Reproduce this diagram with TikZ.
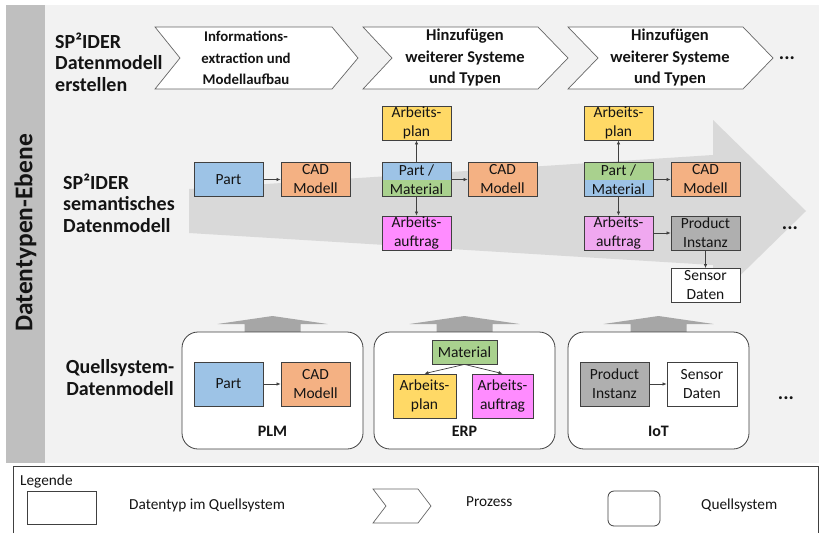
\documentclass[tikz,border=0pt]{standalone}
\usepackage{fontspec}
\setmainfont{Carlito}
\usetikzlibrary{arrows.meta,calc}

\definecolor{panel}{HTML}{F2F2F2}
\definecolor{sidebar}{HTML}{BFBFBF}
\definecolor{flow}{HTML}{D9D9D9}
\definecolor{uparrow}{HTML}{A6A6A6}
\definecolor{edge}{HTML}{404040}
\definecolor{partblue}{HTML}{9DC3E6}
\definecolor{cadorange}{HTML}{F4B183}
\definecolor{planyellow}{HTML}{FFD966}
\definecolor{orderpink}{HTML}{FF8CFF}
\definecolor{orderpinklight}{HTML}{F0A8F0}
\definecolor{matgreen}{HTML}{A9D18E}
\definecolor{instgrey}{HTML}{AFAFAF}
\definecolor{txt}{HTML}{141414}

\tikzset{
  dtype/.style={draw=edge, line width=0.8pt, minimum width=69pt, minimum height=34pt,
    inner sep=0pt, align=center, text=txt, font={\fontsize{15.5}{19}\selectfont}},
  bigdtype/.style={dtype, minimum height=44pt},
  srcsys/.style={draw=edge, line width=0.8pt, fill=white, rounded corners=16pt,
    minimum width=181pt, minimum height=117pt, inner sep=0pt},
  syslabel/.style={font={\fontsize{16}{19}\selectfont\bfseries}, text=txt},
  rowlabel/.style={font={\fontsize{20}{21.5}\selectfont\bfseries}, text=txt, inner sep=0pt},
  chevtext/.style={font={\fontsize{16.5}{21.5}\selectfont\bfseries}, text=txt, align=center},
  chev/.style={draw=edge!80, line width=0.7pt, fill=white},
  conn/.style={draw=edge, line width=0.7pt, -{Latex[length=4pt,width=3.5pt]}},
  dots/.style={font={\fontsize{20}{20}\selectfont\bfseries}, text=txt},
  legtext/.style={font={\fontsize{15.3}{17}\selectfont}, text=txt, anchor=west, inner sep=0pt},
  upfat/.style={fill=uparrow, draw=none},
}

\begin{document}
\begin{tikzpicture}[x=1pt,y=-1pt]
\useasboundingbox (0,0) rectangle (819,533);

% background panel and level bar
\fill[panel] (6,5) rectangle (819,463);
\fill[sidebar] (6,5) rectangle (45,463);
\node[rotate=90, font={\fontsize{25.5}{30}\selectfont\bfseries}, text=txt] (level) at (25.5,233) {Datentypen-Ebene};

% row labels
\node[rowlabel, anchor=west, align=left] (lab1) at (55,62) {SP²IDER\\Datenmodell\\erstellen};
\node[rowlabel, anchor=west, align=left] (lab2) at (63,203) {SP²IDER\\semantisches\\Datenmodell};
\node[rowlabel, align=center] (lab3) at (120,377.5) {Quellsystem-\\Datenmodell};

% process chevrons
\draw[chev] (155,27) -- (332,27) -- (358,58) -- (332,89) -- (155,89) -- (180,58) -- cycle;
\draw[chev] (363,27) -- (538,27) -- (568,58) -- (538,89) -- (363,89) -- (392,58) -- cycle;
\draw[chev] (568,27) -- (743,27) -- (773,58) -- (743,89) -- (568,89) -- (598,58) -- cycle;
\node[chevtext, font={\fontsize{14.8}{21.5}\selectfont\bfseries}] (p1) at (246,58) {Informations-\\extraction und\\Modellaufbau};
\node[chevtext] (p2) at (465,58) {Hinzufügen\\weiterer Systeme\\und Typen};
\node[chevtext] (p3) at (670,58) {Hinzufügen\\weiterer Systeme\\und Typen};
\node[dots] (dots1) at (787,58) {...};

% growth arrow behind the semantic model
\fill[flow] (189,189) -- (713,155) -- (713,120) -- (806,211) -- (713,302) -- (713,265) -- (189,233) -- cycle;

% semantic data model, stage 1
\node[dtype, fill=partblue] (part1) at (228.5,179.5) {Part};
\node[dtype, fill=cadorange] (cad1) at (315.5,179.5) {CAD\\Modell};
\draw[conn] (part1) -- (cad1);

% semantic data model, stage 2
\node[dtype, path picture={
    \fill[partblue] (path picture bounding box.north west) rectangle (path picture bounding box.east);
    \fill[matgreen] (path picture bounding box.west) rectangle (path picture bounding box.south east);}]
  (pm1) at (416.5,179.5) {Part /\\Material};
\node[dtype, fill=planyellow] (ap1) at (416.5,123) {Arbeits-\\plan};
\node[dtype, fill=orderpink] (aa1) at (416.5,233) {Arbeits-\\auftrag};
\node[dtype, fill=cadorange] (cad2) at (502.5,179.5) {CAD\\Modell};
\draw[conn] (pm1) -- (ap1);
\draw[conn] (pm1) -- (aa1);
\draw[conn] (pm1) -- (cad2);

% semantic data model, stage 3
\node[dtype, path picture={
    \fill[matgreen] (path picture bounding box.north west) rectangle (path picture bounding box.east);
    \fill[partblue] (path picture bounding box.west) rectangle (path picture bounding box.south east);}]
  (pm2) at (618.5,179.5) {Part /\\Material};
\node[dtype, fill=planyellow] (ap2) at (618.5,123) {Arbeits-\\plan};
\node[dtype, fill=orderpinklight] (aa2) at (618.5,233) {Arbeits-\\auftrag};
\node[dtype, fill=cadorange] (cad3) at (705.5,179.5) {CAD\\Modell};
\node[dtype, fill=instgrey] (pi1) at (705.5,233) {Product\\Instanz};
\node[dtype, fill=white] (sd1) at (705.5,285.5) {Sensor\\Daten};
\draw[conn] (pm2) -- (ap2);
\draw[conn] (pm2) -- (aa2);
\draw[conn] (pm2) -- (cad3);
\draw[conn] (aa2) -- (pi1);
\draw[conn] (pi1) -- (sd1);
\node[dots] (dots2) at (790,228) {...};

% source systems with feed arrows
\foreach \cx in {272.5,464.5,658.5}{
  \fill[upfat] (\cx-55,324) -- (\cx,316) -- (\cx+55,324) -- (\cx+28,324) -- (\cx+28,332.5)
    -- (\cx-28,332.5) -- (\cx-28,324) -- cycle;
}
\node[srcsys] (plm) at (272.5,390.5) {};
\node[srcsys] (erp) at (464.5,390.5) {};
\node[srcsys] (iot) at (658.5,390.5) {};
\node[syslabel] (plmlab) at (272.5,431) {PLM};
\node[syslabel] (erplab) at (464.5,431) {ERP};
\node[syslabel] (iotlab) at (658.5,431) {IoT};

% PLM
\node[bigdtype, fill=partblue] (partp) at (228.5,384) {Part};
\node[bigdtype, fill=cadorange] (cadp) at (315.5,384) {CAD\\Modell};
\draw[conn] (partp) -- (cadp);

% ERP
\node[dtype, fill=matgreen, minimum width=65pt, minimum height=24pt] (mat) at (464.5,352) {Material};
\node[bigdtype, fill=planyellow, minimum width=63pt] (ape) at (424.5,396) {Arbeits-\\plan};
\node[bigdtype, fill=orderpink, minimum width=61pt] (aae) at (502.5,396) {Arbeits-\\auftrag};
\draw[conn] (mat.south) -- (ape.north);
\draw[conn] (mat.south) -- (aae.north);

% IoT
\node[bigdtype, fill=instgrey] (pii) at (614.5,384) {Product\\Instanz};
\node[bigdtype, fill=white, minimum width=70pt] (sdi) at (702,384) {Sensor\\Daten};
\draw[conn] (pii) -- (sdi);
\node[dots] (dots3) at (786,398) {...};

% legend
\draw[edge, line width=0.8pt] (13,533) -- (13,466) -- (818,466) -- (818,533);
\node[legtext] (legtitle) at (20,481) {Legende};
\node[draw=edge, line width=0.8pt, minimum width=69pt, minimum height=33pt, inner sep=0pt] (legbox) at (61.5,507.5) {};
\node[legtext] (legboxtxt) at (129,505) {Datentyp im Quellsystem};
\draw[chev] (373,489) -- (418,489) -- (431,506) -- (418,523) -- (373,523) -- (386,506) -- cycle;
\node[legtext] (legchevtxt) at (466,502) {Prozess};
\node[draw=edge, line width=0.8pt, rounded corners=6pt, minimum width=52pt, minimum height=35pt, inner sep=0pt] (legsys) at (634,508.5) {};
\node[legtext] (legsystxt) at (701,505) {Quellsystem};
\end{tikzpicture}
\end{document}
